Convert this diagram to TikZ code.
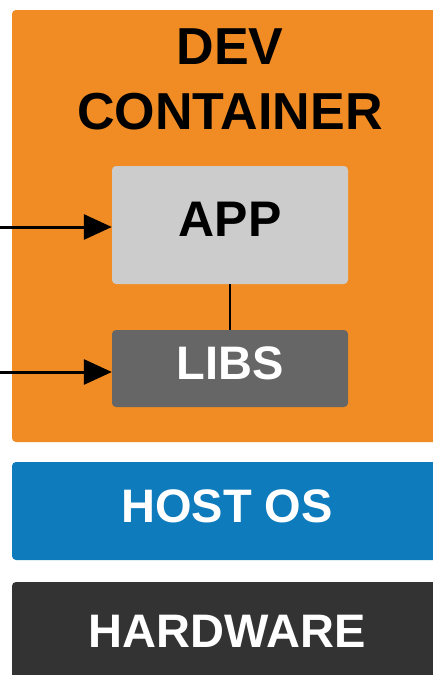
\documentclass[tikz,border=0pt]{standalone}
\usepackage{fontspec}
\setmainfont{Liberation Sans}
\usetikzlibrary{arrows.meta}
\definecolor{devorange}{RGB}{240,140,35}
\definecolor{hostblue}{RGB}{14,123,189}
\definecolor{hwgrey}{RGB}{51,51,51}
\definecolor{appgrey}{RGB}{204,204,204}
\definecolor{libgrey}{RGB}{102,102,102}
\newcommand{\bigfont}{\bfseries\fontsize{47}{63}\selectfont}
\newcommand{\titlefont}{\bfseries\fontsize{52}{65}\selectfont}
\tikzset{
    layer/.style={rectangle, rounded corners=4pt, inner sep=0pt,
        text height=34pt, text depth=12pt, font=\bigfont},
    part/.style={layer, minimum width=236pt},
    feed/.style={line width=3pt, -{Triangle[length=28pt, width=25pt]}}
}

\begin{document}
\begin{tikzpicture}[x=1pt, y=-1pt]
        \useasboundingbox (0,0) rectangle (433,675);
        \fill[white] (0,0) rectangle (433,675);

        \node[layer, fill=devorange, minimum width=430pt, minimum height=432pt] (dev) at (227,226) {};
        \node[font=\titlefont, align=center, text=black] (devlabel) at (230,79) {DEV\\CONTAINER};

        \node[part, fill=appgrey, minimum height=118pt, text=black, font=\bfseries\fontsize{50}{60}\selectfont] (app) at (230,225) {APP};
        \node[part, fill=libgrey, minimum height=77pt, text=white] (libs) at (230,368.5) {LIBS};

        \node[layer, fill=hostblue, minimum width=430pt, minimum height=98pt, text=white] (host) at (227,511) {HOST OS};
        \node[layer, fill=hwgrey, minimum width=430pt, minimum height=108pt, text=white] (hw) at (227,636) {HARDWARE};

        \draw[line width=2pt] (app.south) -- (libs.north);

        \coordinate (appin) at (0,227);
        \coordinate (libsin) at (0,372);
        \draw[feed] (appin) -- (appin -| app.west);
        \draw[feed] (libsin) -- (libsin -| libs.west);
\end{tikzpicture}
\end{document}
